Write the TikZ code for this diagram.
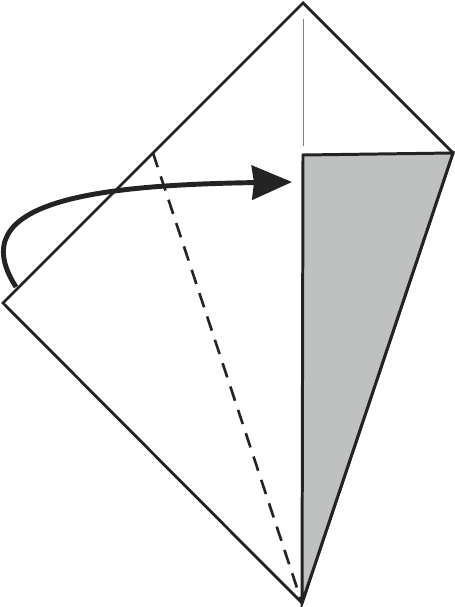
\documentclass[tikz,border=0pt]{standalone}
\usepackage{tikz}
\usetikzlibrary{arrows.meta}
\definecolor{flapgray}{RGB}{191,193,192}
\definecolor{inkblack}{RGB}{35,35,35}

\begin{document}
\begin{tikzpicture}[x=0.02cm, y=-0.02cm, line join=miter]
\useasboundingbox (0,0) rectangle (455,607);

\coordinate (top) at (303,3);
\coordinate (right) at (453,153);
\coordinate (bottom) at (302,603);
\coordinate (left) at (3,303);
\coordinate (inner) at (303,155);
\coordinate (crease) at (153,153);

% outline of the paper
\draw [line width=1.6pt, inkblack] (left) -- (top) -- (right) -- (bottom) -- cycle;

% grey flap
\draw [line width=1.7pt, inkblack, fill=flapgray] (inner) -- (right) -- (bottom) -- cycle;

\draw [line width=0.5pt, gray] (303,19) -- (303,146);

% valley fold
\draw [line width=1.5pt, inkblack, dash pattern=on 8.5pt off 5.5pt] (crease) -- (bottom);

\draw [line width=2.8pt, inkblack, -{Stealth[length=0.8cm, width=0.68cm, inset=0.04cm]}] (16,287) .. controls (-40,200) and (100,185) .. (292,182);
\end{tikzpicture}
\end{document}
